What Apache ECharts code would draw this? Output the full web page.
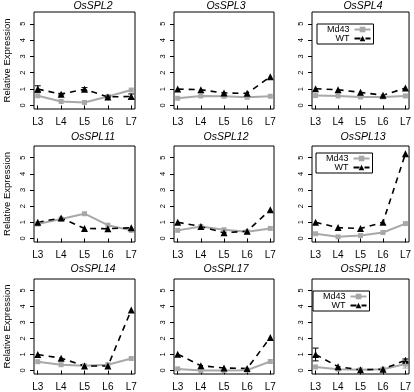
<!DOCTYPE html>
<html>
<head>
<meta charset="utf-8">
<script src="https://cdn.jsdelivr.net/npm/echarts@6/dist/echarts.min.js"></script>
<style>
  html, body { margin: 0; padding: 0; background: #fff; }
  #chart { width: 414px; height: 392px; }
</style>
</head>
<body>
<div id="chart"></div>
<script>
const stages = ["L3", "L4", "L5", "L6", "L7"];
const genes = ["OsSPL2", "OsSPL3", "OsSPL4", "OsSPL11", "OsSPL12", "OsSPL13", "OsSPL14", "OsSPL17", "OsSPL18"];

// relative expression, one row per gene (L3..L7)
const wtValues = [
    [1.0, 0.69, 0.99, 0.52, 0.55],
    [1.0, 0.96, 0.76, 0.74, 1.76],
    [1.02, 0.96, 0.8, 0.62, 1.06],
    [1.0, 1.27, 0.62, 0.6, 0.66],
    [1.0, 0.74, 0.35, 0.45, 1.77],
    [1.0, 0.67, 0.61, 1.0, 5.24],
    [1.0, 0.77, 0.28, 0.28, 3.78],
    [1.02, 0.3, 0.16, 0.12, 2.06],
    [1.0, 0.24, 0.04, 0.08, 0.64],
];
const md43Values = [
    [0.59, 0.24, 0.18, 0.55, 0.94],
    [0.44, 0.58, 0.56, 0.5, 0.56],
    [0.6, 0.58, 0.52, 0.52, 0.58],
    [0.89, 1.2, 1.53, 0.82, 0.5],
    [0.5, 0.74, 0.54, 0.41, 0.62],
    [0.29, 0.1, 0.18, 0.37, 0.92],
    [0.55, 0.36, 0.3, 0.36, 0.75],
    [0.1, 0.0, 0.0, 0.02, 0.56],
    [0.22, 0.08, 0.04, 0.08, 0.4],
];
// error bars (half length), 0 = none visible
const wtErr = [
    [0.2, 0.05, 0.1, 0.05, 0.15],
    [0, 0, 0, 0, 0],
    [0, 0, 0, 0, 0],
    [0, 0, 0, 0, 0],
    [0, 0, 0, 0, 0],
    [0, 0, 0, 0, 0],
    [0, 0, 0, 0, 0],
    [0, 0, 0, 0, 0],
    [0.4, 0, 0, 0, 0.08],
];
const md43Err = [
    [0, 0, 0, 0, 0],
    [0, 0, 0, 0, 0],
    [0, 0, 0, 0, 0],
    [0, 0, 0, 0, 0],
    [0, 0, 0, 0, 0],
    [0, 0, 0, 0, 0],
    [0, 0, 0, 0, 0],
    [0, 0, 0, 0, 0],
    [0, 0, 0, 0, 0.25],
];
const yTicks = [0, 1, 2, 3, 4, 5];
const xTicks = [1, 2, 3, 4, 5];

// layout of the 3x3 panels
const colLeft = [34, 174, 312];
const colWidth = [101, 100, 100];
const rowTop = [12, 146, 279];
const rowHeight = [97, 96, 95];
const titleX = [93, 226, 363];
const titleTop = [1, 132, 264];
const legendPanels = [2, 5, 8];
const legendPos = [[317, 24], [316, 153], [313, 291]];

const FONT = "Liberation Sans";
const GREY = "#a8a8a8";

const option = {
    animation: false,
    textStyle: { fontFamily: FONT },
    title: genes.map((g, i) => ({
        text: g,
        left: titleX[i % 3],
        top: titleTop[Math.floor(i / 3)],
        padding: 0,
        textAlign: "center",
        textStyle: { fontStyle: "italic", fontWeight: "normal", fontSize: 10.5, color: "#000", fontFamily: FONT },
    })),
    legend: legendPanels.map((p, k) => ({
        data: ["Md43", "WT"],
        left: legendPos[k][0],
        top: legendPos[k][1],
        orient: "vertical",
        align: "right",
        itemWidth: 16,
        itemHeight: 7,
        itemGap: 0,
        padding: [1, 2, 1, 10],
        borderColor: "#000",
        borderWidth: 1,
        selectedMode: false,
        textStyle: { fontSize: 9, color: "#000", fontFamily: FONT, width: 30, align: "right" },
    })),
    grid: genes.map((g, i) => ({
        left: colLeft[i % 3],
        top: rowTop[Math.floor(i / 3)],
        width: colWidth[i % 3],
        height: rowHeight[Math.floor(i / 3)],
        show: true,
        borderColor: "#000",
        borderWidth: 1,
    })),
    xAxis: genes.map((g, i) => ({
        type: "value",
        gridIndex: i,
        min: 0.84,
        max: 5.16,
        axisLine: { show: false },
        axisTick: { show: true, length: 4, customValues: xTicks, lineStyle: { color: "#000" } },
        axisLabel: {
            customValues: xTicks,
            formatter: (v) => stages[v - 1],
            fontSize: 10,
            margin: 8,
            color: "#000",
        },
        splitLine: { show: false },
    })),
    yAxis: genes.map((g, i) => ({
        type: "value",
        gridIndex: i,
        min: -0.22,
        max: 5.72,
        name: i % 3 === 0 ? "Relative Expression" : "",
        nameLocation: "middle",
        nameRotate: 90,
        nameGap: 22,
        nameTextStyle: { fontSize: 9.5, color: "#000" },
        axisLine: { show: false },
        axisTick: { show: true, length: 4, customValues: yTicks, lineStyle: { color: "#000" } },
        axisLabel: { customValues: yTicks, rotate: 90, fontSize: 7.5, margin: 7, color: "#000" },
        splitLine: { show: false },
    })),
    series: [],
};

genes.forEach((g, i) => {
    option.series.push({
        name: "Md43",
        type: "line",
        xAxisIndex: i,
        yAxisIndex: i,
        data: md43Values[i].map((v, k) => [k + 1, v]),
        symbol: "rect",
        symbolSize: 5,
        lineStyle: { color: GREY, width: 2 },
        itemStyle: { color: GREY },
    });
    option.series.push({
        name: "WT",
        type: "line",
        xAxisIndex: i,
        yAxisIndex: i,
        data: wtValues[i].map((v, k) => [k + 1, v]),
        symbol: "triangle",
        symbolSize: 7,
        lineStyle: { color: "#000", width: 1.6, type: [6, 5] },
        itemStyle: { color: "#000" },
        z: 3,
    });
    const errData = [];
    md43Values[i].forEach((v, k) => errData.push([k + 1, v, md43Err[i][k], 0]));
    wtValues[i].forEach((v, k) => errData.push([k + 1, v, wtErr[i][k], 1]));
    option.series.push({
        name: "err",
        type: "custom",
        xAxisIndex: i,
        yAxisIndex: i,
        encode: { x: 0, y: 1 },
        data: errData,
        z: 4,
        renderItem: (params, api) => {
            const x = api.value(0), y = api.value(1), e = api.value(2);
            if (!e) return null;
            const color = api.value(3) ? "#000" : GREY;
            const hi = api.coord([x, y + e]);
            const lo = api.coord([x, y - e]);
            const style = { stroke: color, lineWidth: 1 };
            return {
                type: "group",
                children: [
                    { type: "line", shape: { x1: hi[0], y1: hi[1], x2: lo[0], y2: lo[1] }, style },
                    { type: "line", shape: { x1: hi[0] - 3, y1: hi[1], x2: hi[0] + 3, y2: hi[1] }, style },
                    { type: "line", shape: { x1: lo[0] - 3, y1: lo[1], x2: lo[0] + 3, y2: lo[1] }, style },
                ],
            };
        },
    });
});

const chart = echarts.init(document.getElementById("chart"));
chart.setOption(option);
</script>
</body>
</html>
